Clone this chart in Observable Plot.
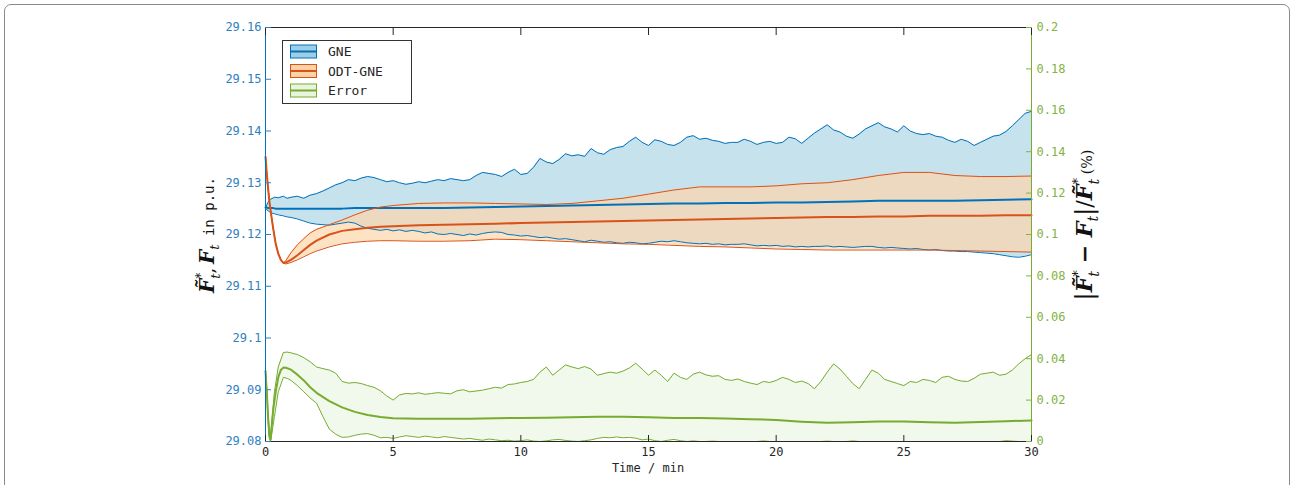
<!DOCTYPE html>
<html><head><meta charset="utf-8">
<script src="https://cdn.jsdelivr.net/npm/d3@7"></script>
<script src="https://cdn.jsdelivr.net/npm/@observablehq/plot@0.6"></script>
<style>
body{margin:0;background:#fff;}
#wrap{position:relative;width:1291px;height:485px;overflow:hidden;background:#fff;}
#frame{position:absolute;left:4px;top:4px;width:1286px;height:560px;border:1.5px solid #8a8a8a;border-radius:7px;box-sizing:border-box;pointer-events:none;z-index:2;}
</style></head><body><div id="wrap"><div id="frame"></div></div>
<script>
// ---------- data ----------
const seriesNames = ["GNE", "ODT-GNE", "Error"];
const xTicks = [0, 5, 10, 15, 20, 25, 30];
const leftTicks = [29.08, 29.09, 29.1, 29.11, 29.12, 29.13, 29.14, 29.15, 29.16];
const rightTicks = [0, 0.02, 0.04, 0.06, 0.08, 0.1, 0.12, 0.14, 0.16, 0.18, 0.2];

// fine time grid (min) for noisy band edges
const tFine = [0, 0.05, 0.1, 0.15, 0.2, 0.35, 0.5, 0.7, 0.85, 1,
  1.25, 1.5, 1.75, 2, 2.25, 2.5, 2.75, 3, 3.25, 3.5, 3.75, 4, 4.25, 4.5, 4.75, 5,
  5.25, 5.5, 5.75, 6, 6.25, 6.5, 6.75, 7, 7.25, 7.5, 7.75, 8, 8.25, 8.5, 8.75, 9,
  9.25, 9.5, 9.75, 10, 10.25, 10.5, 10.75, 11, 11.25, 11.5, 11.75, 12, 12.25, 12.5, 12.75, 13,
  13.25, 13.5, 13.75, 14, 14.25, 14.5, 14.75, 15, 15.25, 15.5, 15.75, 16, 16.25, 16.5, 16.75, 17,
  17.25, 17.5, 17.75, 18, 18.25, 18.5, 18.75, 19, 19.25, 19.5, 19.75, 20, 20.25, 20.5, 20.75, 21,
  21.25, 21.5, 21.75, 22, 22.25, 22.5, 22.75, 23, 23.25, 23.5, 23.75, 24, 24.25, 24.5, 24.75, 25,
  25.25, 25.5, 25.75, 26, 26.25, 26.5, 26.75, 27, 27.25, 27.5, 27.75, 28, 28.25, 28.5, 28.75, 29,
  29.25, 29.5, 29.75, 30];

const gneHi = [29.1250, 29.1257, 29.1262, 29.1266, 29.1268, 29.1272, 29.1271, 29.1274, 29.1270, 29.1272,
  29.1274, 29.1270, 29.1276, 29.1279, 29.1284, 29.1290, 29.1296, 29.1300,
  29.1306, 29.1304, 29.1309, 29.1312, 29.1310, 29.1306, 29.1302, 29.1304,
  29.1300, 29.1297, 29.1299, 29.1302, 29.1300, 29.1303, 29.1306, 29.1304,
  29.1308, 29.1306, 29.1304, 29.1306, 29.1314, 29.1320, 29.1318, 29.1316,
  29.1312, 29.1320, 29.1326, 29.1316, 29.1318, 29.1330, 29.1347, 29.1340,
  29.1337, 29.1345, 29.1356, 29.1352, 29.1354, 29.1351, 29.1366, 29.1358,
  29.1355, 29.1364, 29.1368, 29.1370, 29.1380, 29.1388, 29.1378, 29.1372,
  29.1383, 29.1380, 29.1374, 29.1372, 29.1378, 29.1388, 29.1391, 29.1384,
  29.1386, 29.1382, 29.1380, 29.1376, 29.1378, 29.1378, 29.1384, 29.1380,
  29.1374, 29.1378, 29.1380, 29.1376, 29.1378, 29.1388, 29.1385, 29.1376,
  29.1386, 29.1396, 29.1404, 29.1412, 29.1402, 29.1398, 29.1390, 29.1386,
  29.1394, 29.1404, 29.1410, 29.1416, 29.1408, 29.1404, 29.1398, 29.1410,
  29.1400, 29.1395, 29.1393, 29.1395, 29.1390, 29.1388, 29.1382, 29.1378,
  29.1384, 29.1380, 29.1372, 29.1378, 29.1384, 29.1390, 29.1392, 29.1399,
  29.1410, 29.1422, 29.1434, 29.1438];
const gneLo = [29.1250, 29.1248, 29.1246, 29.1244, 29.1242, 29.1240, 29.1238, 29.1236, 29.1234, 29.1233,
  29.1230, 29.1226, 29.1222, 29.1220, 29.1219, 29.1218, 29.1220, 29.1222,
  29.1224, 29.1222, 29.1216, 29.1212, 29.1210, 29.1208, 29.1210, 29.1207,
  29.1209, 29.1206, 29.1208, 29.1206, 29.1203, 29.1205, 29.1201, 29.1200,
  29.1202, 29.1200, 29.1198, 29.1201, 29.1199, 29.1202, 29.1204, 29.1205,
  29.1204, 29.1200, 29.1199, 29.1197, 29.1198, 29.1196, 29.1194, 29.1195,
  29.1193, 29.1191, 29.1192, 29.1190, 29.1188, 29.1186, 29.1189, 29.1187,
  29.1185, 29.1186, 29.1184, 29.1183, 29.1185, 29.1184, 29.1182, 29.1183,
  29.1185, 29.1187, 29.1186, 29.1188, 29.1186, 29.1184, 29.1183, 29.1182,
  29.1183, 29.1181, 29.1182, 29.1180, 29.1181, 29.1181, 29.1182, 29.1180,
  29.1178, 29.1179, 29.1178, 29.1179, 29.1177, 29.1178, 29.1176, 29.1177,
  29.1176, 29.1177, 29.1177, 29.1178, 29.1176, 29.1177, 29.1176, 29.1175,
  29.1176, 29.1177, 29.1177, 29.1175, 29.1174, 29.1175, 29.1174, 29.1173,
  29.1172, 29.1173, 29.1171, 29.1170, 29.1171, 29.1169, 29.1168, 29.1168,
  29.1167, 29.1167, 29.1166, 29.1165, 29.1164, 29.1163, 29.1161, 29.1159,
  29.1157, 29.1156, 29.1158, 29.1161];
// error band edges (%)
const errHi = [0.0340, 0.0250, 0.0140, 0.0040, 0.0030, 0.0240, 0.0360, 0.0430, 0.0432, 0.0428,
  0.0420, 0.0405, 0.0385, 0.0360, 0.0352, 0.0345, 0.0330, 0.0290,
  0.0282, 0.0285, 0.0280, 0.0270, 0.0262, 0.0245, 0.0220, 0.0200,
  0.0225, 0.0232, 0.0230, 0.0235, 0.0228, 0.0232, 0.0236, 0.0233,
  0.0230, 0.0245, 0.0250, 0.0240, 0.0244, 0.0248, 0.0255, 0.0262,
  0.0258, 0.0275, 0.0278, 0.0285, 0.0290, 0.0300, 0.0335, 0.0360,
  0.0320, 0.0345, 0.0370, 0.0360, 0.0352, 0.0362, 0.0350, 0.0320,
  0.0328, 0.0335, 0.0330, 0.0340, 0.0355, 0.0378, 0.0350, 0.0320,
  0.0345, 0.0320, 0.0290, 0.0330, 0.0310, 0.0300, 0.0325, 0.0335,
  0.0322, 0.0315, 0.0318, 0.0300, 0.0295, 0.0302, 0.0290, 0.0282,
  0.0275, 0.0290, 0.0285, 0.0295, 0.0310, 0.0300, 0.0285, 0.0292,
  0.0280, 0.0255, 0.0290, 0.0335, 0.0375, 0.0350, 0.0315, 0.0280,
  0.0255, 0.0300, 0.0345, 0.0330, 0.0300, 0.0290, 0.0280, 0.0270,
  0.0290, 0.0285, 0.0300, 0.0295, 0.0285, 0.0310, 0.0315, 0.0300,
  0.0292, 0.0290, 0.0305, 0.0325, 0.0330, 0.0335, 0.0320, 0.0325,
  0.0345, 0.0375, 0.0400, 0.0420];
const errLo = [0.0340, 0.0230, 0.0100, 0.0010, 0.0000, 0.0120, 0.0240, 0.0310, 0.0305, 0.0295,
  0.0270, 0.0240, 0.0210, 0.0185, 0.0120, 0.0060, 0.0035, 0.0020,
  0.0022, 0.0030, 0.0036, 0.0038, 0.0030, 0.0018, 0.0020, 0.0015,
  0.0022, 0.0028, 0.0024, 0.0020, 0.0026, 0.0022, 0.0018, 0.0024,
  0.0020, 0.0016, 0.0012, 0.0015, 0.0010, 0.0006, 0.0012, 0.0008,
  0.0004, 0.0006, 0.0002, 0.0004, 0.0008, 0.0002, 0.0000, 0.0003,
  0.0008, 0.0010, 0.0005, 0.0002, 0.0000, 0.0004, 0.0008, 0.0015,
  0.0020, 0.0018, 0.0022, 0.0018, 0.0020, 0.0016, 0.0008, 0.0012,
  0.0004, 0.0000, 0.0006, 0.0010, 0.0004, 0.0000, 0.0003, 0.0000,
  0.0000, 0.0002, 0.0000, 0.0000, 0.0000, 0.0000, 0.0000, 0.0000,
  0.0000, 0.0003, 0.0000, 0.0000, 0.0000, 0.0000, 0.0000, 0.0000,
  0.0000, 0.0000, 0.0000, 0.0002, 0.0000, 0.0000, 0.0000, 0.0003,
  0.0000, 0.0000, 0.0000, 0.0000, 0.0000, 0.0000, 0.0000, 0.0000,
  0.0000, 0.0000, 0.0000, 0.0000, 0.0000, 0.0000, 0.0000, 0.0000,
  0.0000, 0.0000, 0.0000, 0.0000, 0.0000, 0.0000, 0.0000, 0.0004,
  0.0002, 0.0000, 0.0000, 0.0000];

// coarse time grid (min) for the smooth curves
const tSmooth = [0, 0.05, 0.1, 0.15, 0.2, 0.3, 0.4, 0.5, 0.6, 0.7, 0.8, 1,
  1.25, 1.5, 1.75, 2, 2.5, 3, 3.5, 4, 4.5, 5,
  6, 7, 8, 9, 10, 11, 12, 13, 14, 15, 16, 17, 18, 19, 20, 21, 22, 23, 24, 25, 26, 27, 28, 29, 30];
const gneMean = [29.1252, 29.1252, 29.1251, 29.1251, 29.1251, 29.1251, 29.1250, 29.1250, 29.1250, 29.1250, 29.1250, 29.1250,
  29.1250, 29.1250, 29.1250, 29.1250, 29.1250, 29.1250, 29.1251, 29.1251, 29.1251, 29.1251,
  29.1251, 29.1251, 29.1252, 29.1253, 29.1254, 29.1255, 29.1256, 29.1257, 29.1258, 29.1259, 29.1260, 29.1260,
  29.1261, 29.1261, 29.1262, 29.1262, 29.1263, 29.1264, 29.1265, 29.1265, 29.1265, 29.1265, 29.1266, 29.1267, 29.1268];
const odtMean = [29.1350, 29.1318, 29.1290, 29.1265, 29.1246, 29.1212, 29.1182, 29.1163, 29.1151, 29.1145, 29.1146, 29.1151,
  29.1160, 29.1170, 29.1180, 29.1188, 29.1200, 29.1207, 29.1210, 29.1213, 29.1215, 29.1216,
  29.1218, 29.1219, 29.1220, 29.1221, 29.1222, 29.1223, 29.1224, 29.1225, 29.1226, 29.1227, 29.1228, 29.1229,
  29.1230, 29.1231, 29.1232, 29.1233, 29.1234, 29.1234, 29.1235, 29.1235, 29.1236, 29.1236, 29.1236, 29.1237, 29.1237];
const odtHi = [29.1350, 29.1318, 29.1290, 29.1265, 29.1246, 29.1212, 29.1182, 29.1163, 29.1151, 29.1145, 29.1150, 29.1165,
  29.1180, 29.1192, 29.1203, 29.1210, 29.1219, 29.1228, 29.1238, 29.1247, 29.1253, 29.1256,
  29.1260, 29.1261, 29.1261, 29.1260, 29.1259, 29.1258, 29.1260, 29.1265, 29.1270, 29.1278, 29.1286, 29.1292,
  29.1292, 29.1292, 29.1294, 29.1298, 29.1300, 29.1306, 29.1314, 29.1320, 29.1320, 29.1314, 29.1312, 29.1312, 29.1313];
const odtLo = [29.1350, 29.1318, 29.1290, 29.1265, 29.1246, 29.1212, 29.1182, 29.1163, 29.1151, 29.1145, 29.1143, 29.1146,
  29.1151, 29.1157, 29.1163, 29.1168, 29.1176, 29.1182, 29.1185, 29.1187, 29.1188, 29.1188,
  29.1187, 29.1187, 29.1188, 29.1191, 29.1190, 29.1188, 29.1186, 29.1184, 29.1182, 29.1181, 29.1179, 29.1177,
  29.1176, 29.1174, 29.1172, 29.1171, 29.1170, 29.1170, 29.1170, 29.1170, 29.1170, 29.1169, 29.1168, 29.1167, 29.1166];
const errMean = [0.0340, 0.0240, 0.0120, 0.0030, 0.0010, 0.0150, 0.0240, 0.0310, 0.0345, 0.0357, 0.0356, 0.0347,
  0.0323, 0.0295, 0.0262, 0.0235, 0.0195, 0.0165, 0.0143, 0.0128, 0.0118, 0.0112,
  0.0110, 0.0110, 0.0110, 0.0112, 0.0114, 0.0115, 0.0117, 0.0119, 0.0119, 0.0117, 0.0114, 0.0113,
  0.0111, 0.0108, 0.0104, 0.0096, 0.0090, 0.0093, 0.0097, 0.0097, 0.0093, 0.0091, 0.0094, 0.0098, 0.0102];

// ---------- styling ----------
const C = {
  blue: "#0072BD", orange: "#D95319", green: "#77AC30",
  blueFill: "#c6e2ed", orangeFill: "#fcd6ab", greenFill: "#f1f8ec",
  blueTxt: "#2f7fc0", greenTxt: "#82b443", dark: "#262626"
};
// right axis (error, %) drawn on the left y scale: [0, 0.2] <-> [29.08, 29.16]
const Y0 = 29.08, K = 0.4;
const toY = e => Y0 + e * K;
const fmt = v => String(+(+v).toFixed(2));

const fine = tFine.map((t, i) => ({t, hi: gneHi[i], lo: gneLo[i], eHi: toY(errHi[i]), eLo: toY(errLo[i])}));
const smooth = tSmooth.map((t, i) => ({t, gm: gneMean[i], om: odtMean[i], oHi: odtHi[i], oLo: odtLo[i], em: toY(errMean[i])}));

const mono = "'DejaVu Sans Mono', monospace";
const plot = Plot.plot({
  width: 1291, height: 485,
  marginLeft: 265, marginRight: 260, marginTop: 27, marginBottom: 44,
  x: {domain: [0, 30]},
  y: {domain: [29.08, 29.16]},
  style: {background: "#fff", fontFamily: mono, fontSize: "12px", overflow: "visible"},
  marks: [
    Plot.areaY(fine, {x: "t", y1: "eLo", y2: "eHi", fill: C.greenFill}),
    Plot.areaY(fine, {x: "t", y1: "lo", y2: "hi", fill: C.blueFill}),
    Plot.areaY(smooth, {x: "t", y1: "oLo", y2: "oHi", fill: C.orangeFill, fillOpacity: 0.7}),
    // GNE
    Plot.lineY(fine, {x: "t", y: "hi", stroke: C.blue, strokeWidth: 1}),
    Plot.lineY(fine, {x: "t", y: "lo", stroke: C.blue, strokeWidth: 1}),
    Plot.lineY(smooth, {x: "t", y: "gm", stroke: C.blue, strokeWidth: 2}),
    // ODT-GNE
    Plot.lineY(smooth, {x: "t", y: "oHi", stroke: C.orange, strokeWidth: 1}),
    Plot.lineY(smooth, {x: "t", y: "oLo", stroke: C.orange, strokeWidth: 1}),
    Plot.lineY(smooth, {x: "t", y: "om", stroke: C.orange, strokeWidth: 2}),
    // Error
    Plot.lineY(fine, {x: "t", y: "eHi", stroke: C.green, strokeWidth: 1}),
    Plot.lineY(fine, {x: "t", y: "eLo", stroke: C.green, strokeWidth: 1}),
    Plot.lineY(smooth, {x: "t", y: "em", stroke: C.green, strokeWidth: 2}),
    // box
    Plot.ruleY([29.16], {stroke: C.dark}),
    Plot.ruleY([29.08], {stroke: C.dark}),
    Plot.ruleX([0], {stroke: C.blue}),
    Plot.ruleX([30], {stroke: C.green}),
    // axes
    Plot.axisY({anchor: "left", ticks: leftTicks, tickFormat: fmt, tickSize: -6, tickPadding: 10, color: C.blueTxt, label: null, fontSize: 12}),
    Plot.axisY({anchor: "right", ticks: rightTicks.map(toY), tickFormat: d => fmt((d - Y0) / K), tickSize: -6, tickPadding: 11, color: C.greenTxt, label: null, fontSize: 12}),
    Plot.axisX({anchor: "top", ticks: xTicks, tickFormat: () => "", tickSize: -7, color: C.dark, label: null}),
    Plot.axisX({anchor: "bottom", ticks: xTicks, tickFormat: d => String(d), tickSize: -6, tickPadding: 12, color: C.dark, label: null, fontSize: 12})
  ]
});

const svg = d3.select(plot);
const sx = plot.scale("x"), sy = plot.scale("y");

// x label
svg.append("text").attr("x", sx.apply(15)).attr("y", 472).attr("text-anchor", "middle")
  .attr("font-family", mono).attr("font-size", 12).attr("fill", C.dark).text("Time / min");

// y labels (math)
const serif = "'DejaVu Serif', serif";
function mathLabel(x, y, parts, scale) {
  const t = svg.append("text").attr("transform", `translate(${x},${y}) rotate(-90)`)
    .attr("text-anchor", "middle").attr("fill", "#111");
  for (const p of parts) {
    const s = t.append("tspan").text(p.s)
      .attr("font-family", p.mono ? mono : serif)
      .attr("font-size", (p.size || 20) * scale)
      .attr("font-weight", p.bold ? "bold" : "normal")
      .attr("font-style", p.it ? "italic" : "normal");
    if (p.dy) s.attr("dy", p.dy * scale);
    if (p.dx) s.attr("dx", p.dx * scale);
  }
}
mathLabel(214, 235, [
  {s: "F\u0303", bold: true, it: true},
  {s: "*", size: 12, dy: -9},
  {s: "t", size: 13, it: true, dx: -6, dy: 15},
  {s: ",", size: 18, dy: -6},
  {s: "\u00a0", size: 12},
  {s: "F", bold: true, it: true},
  {s: "t", size: 13, it: true, dy: 5},
  {s: "\u00a0in p.u.", size: 14, mono: true, dy: -5}
], 1);
mathLabel(1092, 225, [
  {s: "|", size: 22},
  {s: "F\u0303", bold: true, it: true},
  {s: "*", size: 12, dy: -9},
  {s: "t", size: 13, it: true, dx: -6, dy: 15},
  {s: "\u00a0\u2212\u00a0", size: 20, bold: true, dy: -6},
  {s: "F", bold: true, it: true},
  {s: "t", size: 13, it: true, dy: 5},
  {s: "|", size: 22, dy: -5},
  {s: "/", size: 20},
  {s: "F\u0303", bold: true, it: true},
  {s: "*", size: 12, dy: -9},
  {s: "t", size: 13, it: true, dx: -6, dy: 15},
  {s: "\u00a0(%)", size: 13, dy: -6}
], 1.1);

// legend
const leg = svg.append("g").attr("text-anchor", "start");
leg.append("rect").attr("x", 282.5).attr("y", 40.5).attr("width", 129).attr("height", 63)
  .attr("fill", "#fff").attr("stroke", "#333").attr("stroke-width", 1);
const legStroke = [C.blue, C.orange, C.green];
const legFill = ["#9fcde3", "#fbd2a6", "#e9f4df"];
seriesNames.forEach((name, i) => {
  const cy = 51.5 + i * 19.5;
  leg.append("rect").attr("x", 290.5).attr("y", cy - 6.5).attr("width", 26).attr("height", 13)
    .attr("fill", legFill[i]).attr("stroke", legStroke[i]).attr("stroke-width", 1);
  leg.append("line").attr("x1", 290.5).attr("x2", 316.5).attr("y1", cy).attr("y2", cy)
    .attr("stroke", legStroke[i]).attr("stroke-width", 2);
  leg.append("text").attr("x", 328).attr("y", cy).attr("dy", "0.35em").attr("text-anchor", "start")
    .attr("font-family", mono).attr("font-size", 13).attr("fill", C.dark).text(name);
});

document.getElementById("wrap").appendChild(plot);
</script>
</body></html>
